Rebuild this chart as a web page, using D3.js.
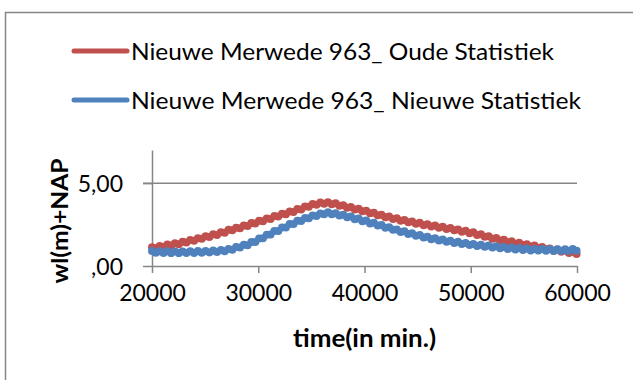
<!DOCTYPE html>
<html><head><meta charset="utf-8">
<script src="https://cdn.jsdelivr.net/npm/d3@7"></script>
<style>
html,body{margin:0;padding:0;background:#fff;}
svg{display:block;font-family:Lato,"Open Sans",sans-serif;}
</style></head>
<body>
<svg id="chart" width="633" height="380"></svg>
<script>
// ---- data ----
const seriesNames = ["Nieuwe Merwede 963_ Oude Statistiek", "Nieuwe Merwede 963_ Nieuwe Statistiek"];
const seriesColors = ["#C0504D", "#4F81BD"];
const times = d3.range(20000, 60000, 360); // sample times (min)
const oudeStatistiek = [
1.13,1.07,1.21,1.15,1.29,1.23,1.37,1.32,1.47,1.42,1.57,1.52,1.68,1.64,1.80,1.75,1.91,1.87,2.04,2.01,
2.18,2.15,2.31,2.28,2.45,2.42,2.59,2.56,2.73,2.70,2.87,2.84,3.01,2.98,3.15,3.12,3.29,3.26,3.44,3.41,
3.59,3.57,3.74,3.69,3.83,3.75,3.84,3.73,3.79,3.63,3.67,3.52,3.56,3.41,3.45,3.30,3.34,3.18,3.22,3.06,
3.10,2.94,2.99,2.84,2.88,2.73,2.78,2.64,2.69,2.55,2.61,2.46,2.52,2.38,2.45,2.31,2.37,2.24,2.30,2.16,
2.21,2.07,2.13,1.98,2.03,1.87,1.91,1.76,1.80,1.64,1.69,1.54,1.59,1.44,1.49,1.35,1.40,1.26,1.32,1.17,
1.23,1.09,1.15,1.01,1.06,0.92,0.99,0.86,0.93,0.79,0.86,0.73];
const nieuweStatistiek = [
0.90,0.80,0.89,0.79,0.89,0.78,0.88,0.78,0.88,0.79,0.89,0.79,0.90,0.80,0.91,0.82,0.93,0.84,0.96,0.89,
1.03,0.98,1.14,1.11,1.28,1.25,1.45,1.45,1.66,1.67,1.89,1.90,2.11,2.11,2.32,2.33,2.54,2.53,2.73,2.72,
2.90,2.88,3.05,3.01,3.17,3.12,3.25,3.13,3.19,3.05,3.10,2.94,2.98,2.82,2.86,2.70,2.74,2.57,2.61,2.44,
2.47,2.31,2.34,2.18,2.21,2.05,2.09,1.93,1.98,1.82,1.87,1.72,1.76,1.62,1.68,1.54,1.60,1.46,1.52,1.39,
1.46,1.33,1.39,1.26,1.33,1.21,1.28,1.16,1.23,1.11,1.19,1.07,1.15,1.03,1.11,0.99,1.08,0.97,1.06,0.94,
1.03,0.93,1.02,0.92,1.02,0.91,1.01,0.91,1.01,0.91,1.02,0.92];
const xTicks = [20000, 30000, 40000, 50000, 60000];
const yTicks = [0, 5];
const yTickLabels = [",00", "5,00"];
const xTitle = "time(in min.)";
const yTitle = "wl(m)+NAP";

// ---- chart ----
const svg = d3.select("#chart");
const gray = "#868686";
// outer border (extends past the picture edge)
svg.append("rect").attr("x", 5.5).attr("y", 12.5).attr("width", 640).attr("height", 400)
  .attr("fill", "none").attr("stroke", gray).attr("stroke-width", 1.5);

const x = d3.scaleLinear().domain([20000, 60000]).range([152, 577]);
const y = d3.scaleLinear().domain([0, 7]).range([266, 150]);

// gridlines
svg.append("g").selectAll("line").data(yTicks.filter(d => d > 0)).join("line")
  .attr("x1", x(20000) - 9).attr("x2", x(60000)).attr("y1", d => y(d)).attr("y2", d => y(d))
  .attr("stroke", gray).attr("stroke-width", 1.5);

// x axis
const xAxis = svg.append("g").attr("transform", `translate(0,${y(0)})`)
  .call(d3.axisBottom(x).tickValues(xTicks).tickSize(7).tickSizeOuter(0).tickPadding(12).tickFormat(d => String(d)));
// y axis
const yAxis = svg.append("g").attr("transform", `translate(${x(20000)},0)`)
  .call(d3.axisLeft(y).tickValues(yTicks).tickSize(9).tickSizeOuter(0).tickPadding(20)
    .tickFormat((d, i) => yTickLabels[i]));
[xAxis, yAxis].forEach(g => {
  g.select(".domain").attr("stroke", gray).attr("stroke-width", 1.5);
  g.selectAll(".tick line").attr("stroke", gray).attr("stroke-width", 1.5);
  g.selectAll(".tick text").attr("fill", "#000").style("font-size", "23px")
    .style("font-family", "Lato, 'Open Sans', sans-serif");
});
xAxis.selectAll(".tick text").attr("dy", "0.68em");
yAxis.selectAll(".tick text").attr("x", -29).attr("dy", "0.35em");

// series
const allSeries = [oudeStatistiek, nieuweStatistiek];
const line = d3.line().x((d, i) => x(times[i])).y(d => y(d));
allSeries.forEach((vals, si) => {
  const g = svg.append("g");
  g.append("path").datum(vals).attr("d", line).attr("fill", "none")
    .attr("stroke", seriesColors[si]).attr("stroke-width", 2.5);
  g.selectAll("circle").data(vals).join("circle")
    .attr("cx", (d, i) => x(times[i])).attr("cy", d => y(d)).attr("r", 4)
    .attr("fill", seriesColors[si]);
});

// axis titles
svg.append("text").attr("x", (x(20000) + x(60000)) / 2).attr("y", 347).attr("text-anchor", "middle")
  .style("font-size", "24px").style("font-weight", "bold")
  .attr("textLength", 143).attr("lengthAdjust", "spacingAndGlyphs").text(xTitle);
svg.append("text").attr("transform", "translate(68,221) rotate(-90)").attr("text-anchor", "middle")
  .style("font-size", "23px").style("font-weight", "bold")
  .attr("textLength", 125).attr("lengthAdjust", "spacingAndGlyphs").text(yTitle);

// legend
const legY = [51, 100];
const legW = [423, 450];
seriesNames.forEach((name, i) => {
  svg.append("line").attr("x1", 74).attr("x2", 127).attr("y1", legY[i]).attr("y2", legY[i])
    .attr("stroke", seriesColors[i]).attr("stroke-width", 5).attr("stroke-linecap", "round");
  svg.append("text").attr("x", 131).attr("y", legY[i] + 9).style("font-size", "22.5px")
    .attr("textLength", legW[i]).attr("lengthAdjust", "spacingAndGlyphs").text(name);
});
</script>
</body></html>
